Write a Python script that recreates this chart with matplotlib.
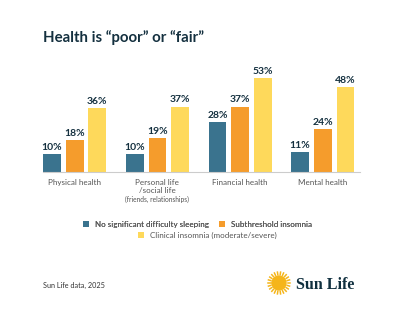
import numpy as np
import matplotlib
matplotlib.use("Agg")
import matplotlib.pyplot as plt
from matplotlib.patches import Circle

categories = ["Physical health", "Personal life\n/social life", "Financial health", "Mental health"]
series_names = ["No significant difficulty sleeping", "Subthreshold insomnia",
                "Clinical insomnia (moderate/severe)"]
no_difficulty = [10, 10, 28, 11]
subthreshold = [18, 19, 37, 24]
clinical = [36, 37, 53, 48]

colors = ["#3a738e", "#f59c2c", "#fed95b"]
navy = "#14303f"
grey = "#555555"

plt.rcParams["font.family"] = ["Lato", "DejaVu Sans"]

fig = plt.figure(figsize=(4, 3.22), dpi=100)
ax = fig.add_axes([0.1075, 0.4668, 0.7925, 0.328])

x = np.arange(len(categories))
w = 0.214
step = 0.274
handles = []
for i, (vals, c) in enumerate(zip([no_difficulty, subthreshold, clinical], colors)):
    pos = x + (i - 1) * step
    bars = ax.bar(pos, vals, width=w, color=c, label=series_names[i])
    handles.append(bars)
    for p, v in zip(pos, vals):
        ax.text(p, v + 1.2, f"{v}%", ha="center", va="bottom", fontsize=7.5,
                fontweight="bold", color=navy)

ax.set_xlim(-0.383, 3.45)
ax.set_ylim(0, 60)
for s in ["top", "right", "left"]:
    ax.spines[s].set_visible(False)
ax.spines["bottom"].set_color("#cccccc")
ax.spines["bottom"].set_linewidth(0.8)
ax.set_yticks([])
ax.set_xticks(x)
ax.set_xticklabels(categories, fontsize=5.8, color=grey, linespacing=1.3, va="top")
ax.tick_params(axis="x", length=0, pad=5)
ax.text(x[1], -0.26, "(friends, relationships)", transform=ax.get_xaxis_transform(),
        ha="center", va="center", fontsize=4.8, color=grey)

fig.text(0.1075, 0.882, "Health is \u201cpoor\u201d or \u201cfair\u201d", fontsize=10.8,
         fontweight="bold", color=navy, va="center")

leg_kw = dict(loc="center", frameon=False, fontsize=5.8, handlelength=0.75,
              handleheight=0.75, columnspacing=1.25, handletextpad=0.75,
              labelcolor=grey, borderpad=0)
leg1 = fig.legend(handles[:2], series_names[:2], ncol=2,
                  bbox_to_anchor=(0.4935, 0.304), **leg_kw)
fig.add_artist(leg1)
fig.legend(handles[2:], series_names[2:], ncol=1,
           bbox_to_anchor=(0.518, 0.268), **leg_kw)

fig.text(0.1075, 0.115, "Sun Life data, 2025", fontsize=5.2, color="#333333", va="center")

# logo
lax = fig.add_axes([0, 0, 1, 1], facecolor="none")
lax.set_xlim(0, 400)
lax.set_ylim(322, 0)
lax.axis("off")
cx, cy = 279, 283
lax.add_patch(Circle((cx, cy), 7, color="#f5b51a"))
for a in np.linspace(0, 2 * np.pi, 22, endpoint=False):
    lax.plot([cx + 8.5 * np.cos(a), cx + 11 * np.cos(a)],
             [cy + 8.5 * np.sin(a), cy + 11 * np.sin(a)], color="#f5b51a", lw=1.1)
lax.text(296, 285, "Sun Life", fontsize=11.5, fontweight="bold", color="#0f2f3e",
         family="Liberation Serif", va="center", ha="left")

fig.savefig("out.png", dpi=100, facecolor="white")
